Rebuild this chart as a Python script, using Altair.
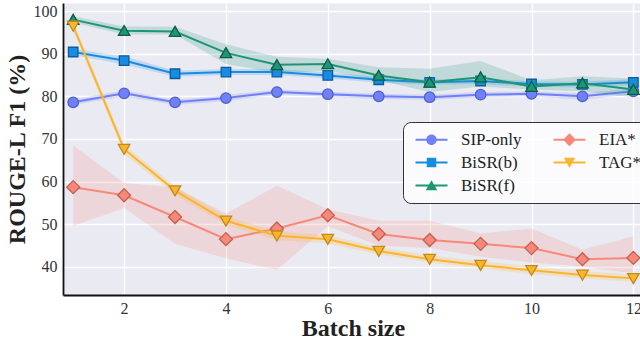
import altair as alt
import pandas as pd

batch = [1, 2, 3, 4, 5, 6, 7, 8, 9, 10, 11, 12]

sip = [78.6, 80.7, 78.6, 79.6, 81.0, 80.5, 80.0, 79.8, 80.4, 80.6, 80.0, 81.2]
sip_lo = [78.0, 80.0, 78.0, 78.9, 80.4, 79.9, 79.4, 79.2, 79.8, 80.0, 79.2, 80.5]
sip_hi = [79.3, 81.4, 79.2, 80.3, 81.6, 81.1, 80.6, 80.4, 81.0, 81.2, 80.7, 81.9]

bisr_b = [90.4, 88.4, 85.3, 85.7, 85.7, 84.9, 83.9, 83.3, 83.6, 82.9, 82.8, 83.3]
bisr_b_lo = [89.7, 87.5, 84.6, 85.0, 85.0, 84.2, 83.2, 82.7, 82.9, 82.3, 82.1, 82.6]
bisr_b_hi = [91.1, 89.4, 86.0, 86.4, 86.4, 85.6, 84.6, 83.9, 84.3, 83.5, 83.5, 84.0]

bisr_f = [98.0, 95.4, 95.2, 90.2, 87.4, 87.6, 84.9, 83.3, 84.5, 82.3, 83.1, 81.6]
bisr_f_lo = [97.3, 94.5, 94.5, 87.6, 85.5, 86.0, 83.7, 81.0, 82.3, 81.6, 81.2, 79.8]
bisr_f_hi = [98.8, 96.4, 96.3, 92.2, 89.3, 88.8, 86.8, 86.5, 88.3, 83.8, 84.7, 84.2]

eia = [58.7, 56.8, 51.7, 46.5, 49.0, 52.1, 47.7, 46.3, 45.4, 44.4, 41.8, 42.1]
eia_lo = [49.6, 53.8, 45.4, 42.0, 39.3, 49.5, 45.0, 44.4, 42.4, 41.0, 40.0, 38.5]
eia_hi = [68.5, 59.7, 58.6, 52.5, 59.0, 53.5, 50.8, 50.8, 47.8, 49.0, 44.0, 47.2]

tag = [96.5, 67.6, 57.9, 50.8, 47.3, 46.5, 43.7, 41.8, 40.4, 39.2, 38.1, 37.3]
tag_lo = [95.5, 66.5, 57.0, 49.8, 46.3, 45.5, 42.9, 41.0, 39.6, 38.3, 37.3, 36.5]
tag_hi = [97.5, 68.7, 58.9, 51.8, 48.3, 47.5, 44.6, 42.7, 41.3, 40.1, 39.0, 38.2]

series_names = ["SIP-only", "BiSR(b)", "BiSR(f)", "EIA*", "TAG*"]
line_colors = ["#7080f6", "#178ce4", "#1c9676", "#f7887a", "#fbb52a"]
edge_colors = ["#5060d0", "#0a5c9e", "#0e5c46", "#c2604f", "#c08a1c"]

point_paths = [
    "M1.05,0A1.05,1.05,0,1,1,-1.05,0A1.05,1.05,0,1,1,1.05,0Z",
    "M-0.95,-0.95H0.95V0.95H-0.95Z",
    "M0,-1.05L1.15,0.95L-1.15,0.95Z",
    "M0,-1.3L1.3,0L0,1.3L-1.3,0Z",
    "M0,1.05L-1.15,-0.95L1.15,-0.95Z",
]
LINE = "M-1,-0.2H5.4V0.2H-1Z "
legend_paths = [
    LINE + "M3.25,0A1.05,1.05,0,1,1,1.15,0A1.05,1.05,0,1,1,3.25,0Z",
    LINE + "M1.25,-0.95H3.15V0.95H1.25Z",
    LINE + "M2.2,-1.05L3.35,0.95L1.05,0.95Z",
    LINE + "M2.2,-1.3L3.5,0L2.2,1.3L0.9,0Z",
    LINE + "M2.2,1.05L1.05,-0.95L3.35,-0.95Z",
]

values = [sip, bisr_b, bisr_f, eia, tag]
lows = [sip_lo, bisr_b_lo, bisr_f_lo, eia_lo, tag_lo]
highs = [sip_hi, bisr_b_hi, bisr_f_hi, eia_hi, tag_hi]

rows = []
for name, v, lo, hi in zip(series_names, values, lows, highs):
    for x, a, b, c in zip(batch, v, lo, hi):
        rows.append({"series": name, "x": x, "y": a, "lo": b, "hi": c})
df = pd.DataFrame(rows)

FONT = "Liberation Serif"

xenc = alt.X(
    "x:Q",
    scale=alt.Scale(domain=[0.8, 12.13], nice=False, zero=False),
    axis=alt.Axis(
        values=[2, 4, 6, 8, 10, 12],
        title="Batch size",
        titleX=290,
        titleY=40.5,
        titleAlign="center",
        titleBaseline="alphabetic",
        labelBaseline="alphabetic",
        labelPadding=18,
        labelFont=FONT,
        labelFontSize=16,
        titleFont=FONT,
    ),
)
yscale = alt.Scale(domain=[33.4, 101.9], nice=False, zero=False)
yaxis = alt.Axis(
    values=[40, 50, 60, 70, 80, 90, 100],
    title="ROUGE-L F1 (%)",
    titleX=-39,
    titleY=146,
    titleAlign="center",
    titleBaseline="alphabetic",
    labelPadding=6,
    labelFont=FONT,
    labelFontSize=16,
    titleFont=FONT,
)

color_scale = alt.Scale(domain=series_names, range=line_colors)
edge_scale = alt.Scale(domain=series_names, range=edge_colors)
shape_scale = alt.Scale(domain=series_names, range=point_paths)

base = alt.Chart(df)
layers = []
for name in series_names:
    sub = base.transform_filter(alt.datum.series == name)
    band = sub.mark_area(opacity=0.2).encode(
        x=xenc,
        y=alt.Y("lo:Q", scale=yscale, axis=yaxis),
        y2="hi:Q",
        color=alt.Color("series:N", scale=color_scale, legend=None),
    )
    line = sub.mark_line(strokeWidth=2).encode(
        x=xenc,
        y=alt.Y("y:Q", scale=yscale, axis=yaxis),
        color=alt.Color("series:N", scale=color_scale, legend=None),
    )
    pts = sub.mark_point(filled=True, size=100, opacity=1, strokeWidth=1.3).encode(
        x=xenc,
        y=alt.Y("y:Q", scale=yscale, axis=yaxis),
        color=alt.Color("series:N", scale=color_scale, legend=None),
        stroke=alt.Stroke("series:N", scale=edge_scale, legend=None),
        shape=alt.Shape("series:N", scale=shape_scale, legend=None),
    )
    layers += [band, line, pts]

legend_def = alt.Legend(
    title=None,
    orient="none",
    legendX=340,
    legendY=119,
    columns=2,
    symbolSize=100,
    symbolStrokeWidth=0,
    symbolOpacity=1,
    labelFont=FONT,
    labelFontSize=17,
    labelColor="#222222",
    labelOffset=32,
    rowPadding=5,
    columnPadding=28,
    padding=9,
    fillColor="rgba(255,255,255,0.8)",
    strokeColor="#333333",
    cornerRadius=8,
)

legend_layer = base.transform_filter("datum.x < 0").mark_point(
    filled=True, size=100, opacity=1, strokeWidth=0
).encode(
    x=xenc,
    y=alt.Y("y:Q", scale=yscale, axis=yaxis),
    color=alt.Color(
        "series:N",
        scale=alt.Scale(domain=series_names, range=line_colors),
        legend=legend_def,
    ),
    shape=alt.Shape(
        "series:N",
        scale=alt.Scale(domain=series_names, range=legend_paths),
        legend=legend_def,
    ),
)

chart = (
    alt.layer(*layers, legend_layer)
    .resolve_scale(shape="independent", color="independent")
    .properties(
        width=577,
        height=292,
        padding={"left": 63, "top": 3, "right": 0, "bottom": 44},
        autosize=alt.AutoSizeParams(type="none"),
        background="white",
    )
    .configure_view(fill="#EAEAF2", stroke="transparent")
    .configure_axis(
        grid=True,
        gridColor="white",
        gridWidth=1.4,
        domainColor="#111111",
        domainWidth=1.8,
        ticks=False,
        tickSize=0,
        labelFont=FONT,
        labelFontSize=16,
        labelColor="#333333",
        titleFont=FONT,
        titleFontSize=24,
        titleFontWeight="bold",
        titleColor="#222222",
    )
    .configure_legend(labelFont=FONT, labelFontSize=17)
)

chart.save("out.html", embed_options={"renderer": "svg", "actions": False})
